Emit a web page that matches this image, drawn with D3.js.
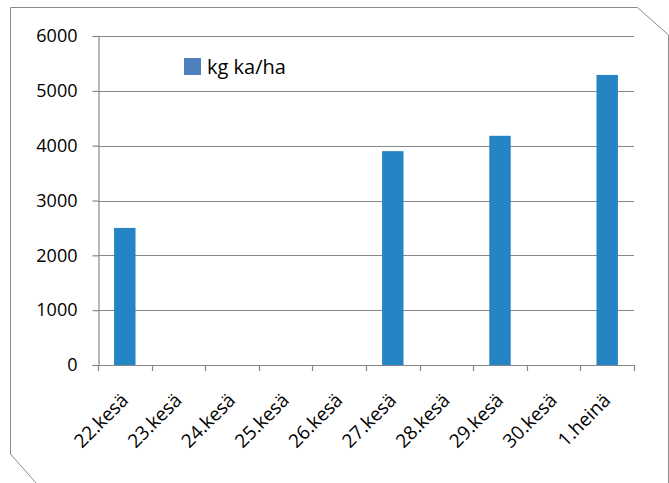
<!DOCTYPE html>
<html>
<head>
<meta charset="utf-8">
<script src="https://cdn.jsdelivr.net/npm/d3@7"></script>
<style>
  html, body { margin: 0; padding: 0; background: #fff; }
  svg { display: block; }
  text { font-family: "Open Sans", sans-serif; fill: #000; }
</style>
</head>
<body>
<svg id="chart" width="669" height="483"></svg>
<script>
// Dry matter yield per sampling day
const categories = ["22.kesä", "23.kesä", "24.kesä", "25.kesä", "26.kesä",
                    "27.kesä", "28.kesä", "29.kesä", "30.kesä", "1.heinä"];
const values = [2500, null, null, null, null, 3900, null, 4180, null, 5290];
const seriesName = "kg ka/ha";
const yTicks = [0, 1000, 2000, 3000, 4000, 5000, 6000];

const svg = d3.select("#chart");

// outer frame with chamfered corners (top-right, bottom-left)
svg.append("path")
  .attr("d", "M10.5,7.5 L637.5,7.5 L668.5,35 L668.5,500 L40,500 L36,483 L10.5,454 Z")
  .attr("fill", "#fff")
  .attr("stroke", "#8c8c8c")
  .attr("stroke-width", 1);

const plot = { left: 98, right: 634, top: 36, bottom: 365 };

const x = d3.scaleBand()
  .domain(categories)
  .range([plot.left, plot.right])
  .paddingInner(0.6)
  .paddingOuter(0.3);

const xb = d3.scaleBand().domain(categories).range([plot.left, plot.right]);

const y = d3.scaleLinear().domain([0, 6000]).range([plot.bottom, plot.top]);

// gridlines
svg.append("g")
  .selectAll("line")
  .data(yTicks.filter(d => d > 0))
  .join("line")
  .attr("x1", plot.left).attr("x2", plot.right)
  .attr("y1", d => Math.round(y(d)) + 0.5).attr("y2", d => Math.round(y(d)) + 0.5)
  .attr("stroke", "#888").attr("stroke-width", 1.2);

// bars
svg.append("g")
  .selectAll("rect")
  .data(categories.map((c, i) => ({ c, v: values[i] })).filter(d => d.v != null))
  .join("rect")
  .attr("x", d => x(d.c))
  .attr("width", x.bandwidth())
  .attr("y", d => y(d.v))
  .attr("height", d => y(0) - y(d.v))
  .attr("fill", "#2584c4");

// y axis
const yAxis = svg.append("g")
  .attr("transform", `translate(${plot.left + 0.5},0)`)
  .call(d3.axisLeft(y).tickValues(yTicks).tickSize(6).tickPadding(15).tickFormat(d3.format("d")));
yAxis.select(".domain").attr("stroke", "#888").attr("stroke-width", 1.2);
yAxis.selectAll(".tick line").attr("stroke", "#888").attr("stroke-width", 1.2);
yAxis.selectAll(".tick text")
  .attr("font-size", 18)
  .attr("font-family", "'Open Sans', sans-serif")
  .attr("fill", "#000");

// x axis line and category boundary ticks
const xg = svg.append("g");
xg.append("line")
  .attr("x1", plot.left).attr("x2", plot.right)
  .attr("y1", plot.bottom + 0.5).attr("y2", plot.bottom + 0.5)
  .attr("stroke", "#888").attr("stroke-width", 1.2);
const bounds = categories.map(c => xb(c)).concat([plot.right]);
xg.selectAll("line.tk")
  .data(bounds)
  .join("line")
  .attr("class", "tk")
  .attr("x1", d => Math.round(d) + 0.5).attr("x2", d => Math.round(d) + 0.5)
  .attr("y1", plot.bottom).attr("y2", plot.bottom + 6)
  .attr("stroke", "#888").attr("stroke-width", 1.2);

// rotated category labels
xg.selectAll("text")
  .data(categories)
  .join("text")
  .attr("transform", d => `translate(${xb(d) + xb.bandwidth() / 2 + 1},${plot.bottom + 33}) rotate(-45)`)
  .attr("text-anchor", "end")
  .attr("dominant-baseline", "middle")
  .attr("font-size", 19)
  .text(d => d);

// legend
const lg = svg.append("g").attr("transform", "translate(184,58)");
lg.append("rect").attr("width", 17).attr("height", 17).attr("fill", "#4f81bd");
lg.append("text").attr("x", 23).attr("y", 16).attr("font-size", 20).text(seriesName);
</script>
</body>
</html>
